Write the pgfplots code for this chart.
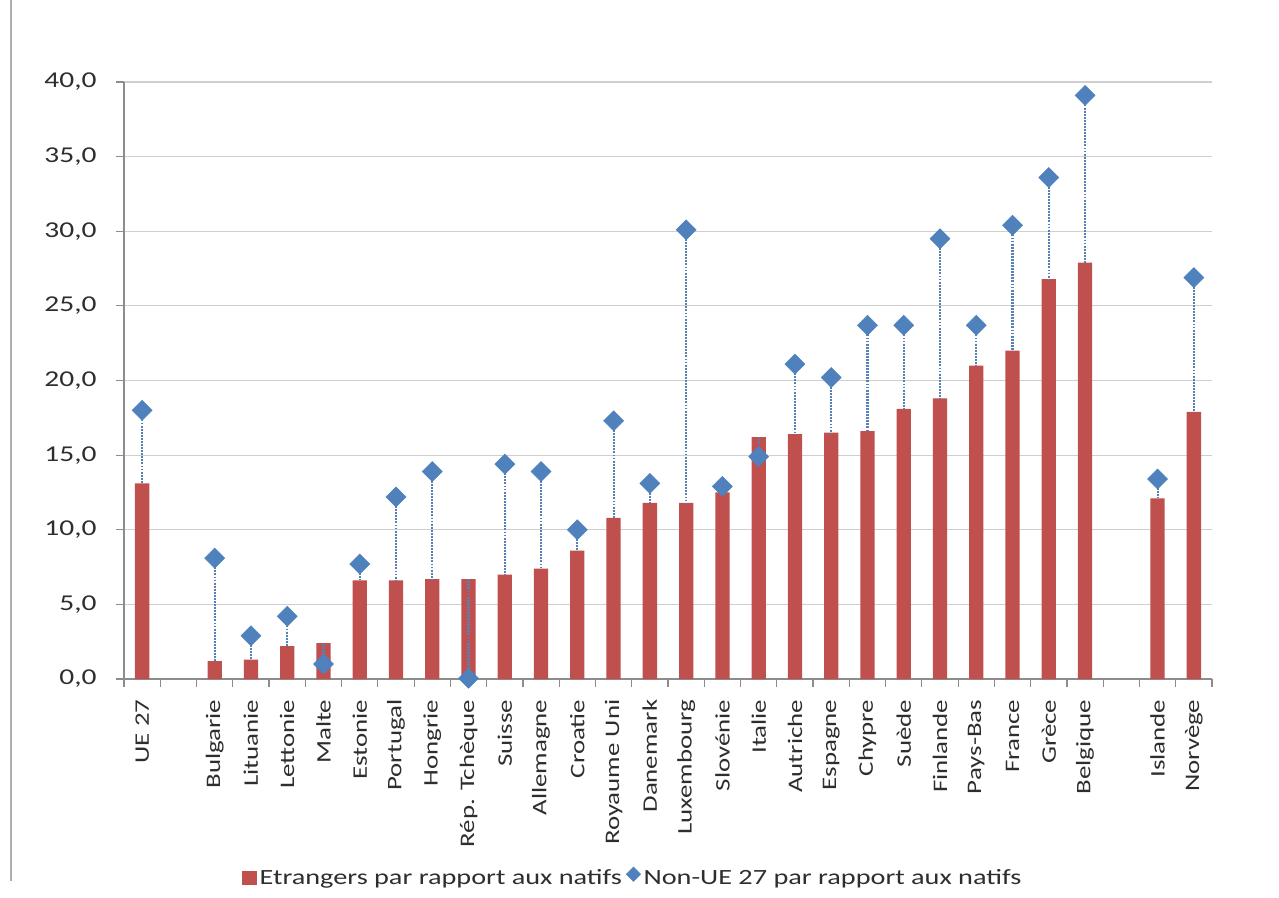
\documentclass[border=0pt]{standalone}
\usepackage{fontspec}
\setmainfont{Carlito}[FakeStretch=1.3]
\usepackage{pgfplots}
\pgfplotsset{compat=1.18}
\usepackage{pgfplotstable}
\definecolor{barred}{HTML}{C0504D}
\definecolor{dblue}{HTML}{4F81BD}
\definecolor{axgray}{HTML}{8C8C8C}
\definecolor{grgray}{HTML}{CFCFCF}
\definecolor{txt}{HTML}{2E2E2E}
\pgfplotstableread{
x b d
0 13.1 18.0
2 1.2 8.1
3 1.3 2.9
4 2.2 4.2
5 2.4 1.0
6 6.6 7.7
7 6.6 12.2
8 6.7 13.9
9 6.7 0.05
10 7.0 14.4
11 7.4 13.9
12 8.6 10.0
13 10.8 17.3
14 11.8 13.1
15 11.8 30.1
16 12.5 12.9
17 16.2 14.9
18 16.4 21.1
19 16.5 20.2
20 16.6 23.7
21 18.1 23.7
22 18.8 29.5
23 21.0 23.7
24 22.0 30.4
25 26.8 33.6
26 27.9 39.1
28 12.1 13.4
29 17.9 26.9
}\datatable
\begin{document}
\begin{tikzpicture}
\useasboundingbox (0,0) rectangle (959.25pt,672.75pt);
\fill[white] (0,0) rectangle (959.25pt,672.75pt);
\draw[axgray!70, line width=1.6pt] (8.5pt,672.75pt) -- (8.5pt,12pt);
\begin{axis}[
  at={(93pt,163.5pt)}, anchor=south west,
  scale only axis, width=816pt, height=447.75pt,
  xmin=-0.5, xmax=29.5, ymin=0, ymax=40,
  axis lines*=left,
  axis line style={axgray, line width=0.9pt},
  tick align=outside,
  xtick={0,...,29},
  xticklabels={UE 27,,Bulgarie,Lituanie,Lettonie,Malte,Estonie,Portugal,Hongrie,Rép. Tchèque,Suisse,Allemagne,Croatie,Royaume Uni,Danemark,Luxembourg,Slovénie,Italie,Autriche,Espagne,Chypre,Suède,Finlande,Pays-Bas,France,Grèce,Belgique,,Islande,Norvège},
  minor xtick={-0.5,0.5,...,29.5},
  major x tick style={draw=none},
  minor x tick style={axgray, line width=0.9pt},
  minor tick length=6pt,
  ytick={0,5,...,40},
  major tick length=6pt,
  y tick style={axgray, line width=0.9pt},
  ymajorgrids,
  grid style={grgray, line width=0.9pt},
  ticklabel style={text=txt},
  yticklabel style={font=\fontsize{17}{20}\selectfont, xshift=-11pt, /pgf/number format/.cd, fixed, fixed zerofill, precision=1, use comma, assume math mode=true},
  xticklabel style={font=\fontsize{15.5}{18}\selectfont, yshift=-6pt, rotate=90, anchor=east},
  legend style={at={(0.468,-0.3333)}, anchor=center, draw=none, fill=none,
    font=\fontsize{16.3}{19}\selectfont, text=txt, legend columns=2,
    /tikz/every even column/.style={column sep=1pt}},
  legend cell align=left,
]
\addplot[ybar, bar width=10.7pt, fill=barred, draw=none, bar shift=0pt,
  legend image code/.code={\fill[barred] (0pt,-5.5pt) rectangle (11pt,5.5pt);}]
  table[x=x, y=b] {\datatable};
\addlegendentry{Etrangers par rapport aux natifs}
\addplot[only marks, mark=square*, mark size=5.3pt, mark options={rotate=45, fill=dblue, draw=dblue},
  legend image code/.code={\fill[dblue, rotate=45] (4pt,0pt) ++(-3.8pt,-3.8pt) rectangle ++(7.6pt,7.6pt);},
  error bars/.cd, y dir=minus, y explicit, error mark=none,
  error bar style={dblue!85!gray, line width=1.6pt, dash pattern=on 1.4pt off 0.9pt}]
  table[x=x, y=d, y error expr=\thisrow{d}-\thisrow{b}] {\datatable};
\addlegendentry{Non-UE 27 par rapport aux natifs}
\end{axis}
\end{tikzpicture}
\end{document}
